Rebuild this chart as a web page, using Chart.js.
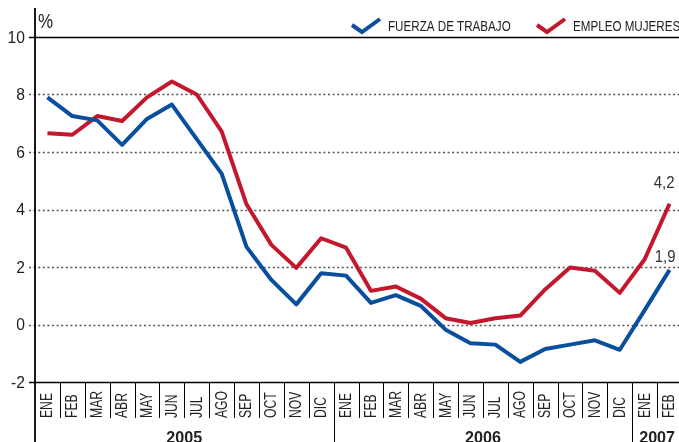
<!DOCTYPE html>
<html>
<head>
<meta charset="utf-8">
<script src="https://cdn.jsdelivr.net/npm/chart.js@4/dist/chart.umd.min.js"></script>
<style>
  html, body { margin: 0; padding: 0; background: #fff; overflow: hidden; }
  #wrap { width: 679px; height: 442px; overflow: hidden; position: relative; }
  canvas { display: block; }
</style>
</head>
<body>
<div id="wrap"><canvas id="chart" width="682" height="442"></canvas></div>
<script>
const months = ['ENE','FEB','MAR','ABR','MAY','JUN','JUL','AGO','SEP','OCT','NOV','DIC',
                'ENE','FEB','MAR','ABR','MAY','JUN','JUL','AGO','SEP','OCT','NOV','DIC',
                'ENE','FEB'];
const years = ['2005', '2006', '2007'];
const yearStart = [0, 12, 24];
const fuerzaTrabajo = [7.9, 7.25, 7.1, 6.25, 7.15, 7.65, 6.45, 5.25, 2.7, 1.55, 0.7, 1.78,
                       1.7, 0.75, 1.02, 0.65, -0.18, -0.65, -0.7, -1.3, -0.85, -0.7, -0.55, -0.88,
                       0.5, 1.9];
const empleoMujeres = [6.65, 6.6, 7.25, 7.08, 7.9, 8.45, 8.0, 6.72, 4.18, 2.77, 1.97, 3.0,
                       2.67, 1.17, 1.32, 0.9, 0.22, 0.05, 0.22, 0.31, 1.22, 1.98, 1.87, 1.1,
                       2.27, 4.2];
const yTicks = [-2, 0, 2, 4, 6, 8, 10];

const FONT = "'Liberation Sans', Arial, sans-serif";
const BLUE = '#0a4f9d';
const RED = '#c3172d';
const INK = '#222';

// condensed text: squeeze horizontally to look like a narrow face
function narrowText(ctx, text, x, y, font, sx, align) {
    ctx.save();
    ctx.font = font;
    ctx.textAlign = align || 'left';
    ctx.translate(x, y);
    ctx.scale(sx, 1);
    ctx.fillText(text, 0, 0);
    ctx.restore();
}

const decor = {
    id: 'decor',
    beforeDatasetsDraw(chart) {
        const { ctx, scales: { y } } = chart;
        ctx.save();
        ctx.strokeStyle = '#555';
        ctx.lineWidth = 1.5;
        ctx.setLineDash([2, 2.6]);
        yTicks.forEach(t => {
            if (t === -2 || t === 10) return;
            const py = Math.round(y.getPixelForValue(t)) + 0.5;
            ctx.beginPath();
            ctx.moveTo(29, py);
            ctx.lineTo(chart.width, py);
            ctx.stroke();
        });
        ctx.restore();
    },
    afterDraw(chart) {
        const { ctx, chartArea: a, scales: { x, y } } = chart;
        ctx.save();
        ctx.strokeStyle = '#000';
        ctx.setLineDash([]);

        // solid lines at 10 and -2
        ctx.lineWidth = 1.6;
        [10, -2].forEach(t => {
            const py = Math.round(y.getPixelForValue(t)) + 0.5;
            ctx.beginPath();
            ctx.moveTo(29, py);
            ctx.lineTo(chart.width, py);
            ctx.stroke();
        });

        // left axis
        ctx.lineWidth = 1.8;
        ctx.beginPath();
        ctx.moveTo(a.left, 8);
        ctx.lineTo(a.left, chart.height);
        ctx.stroke();

        // y tick labels
        ctx.fillStyle = INK;
        ctx.textBaseline = 'middle';
        yTicks.forEach(t => {
            narrowText(ctx, String(t), 25, y.getPixelForValue(t) + 1, '17px ' + FONT, 0.92, 'right');
        });

        // month separators
        const bottom = a.bottom;
        ctx.lineWidth = 1;
        for (let i = 1; i <= months.length; i++) {
            const px = i < months.length
                ? (x.getPixelForValue(i - 1) + x.getPixelForValue(i)) / 2
                : a.right;
            const isYear = yearStart.includes(i);
            ctx.beginPath();
            ctx.moveTo(Math.round(px) + 0.5, bottom);
            ctx.lineTo(Math.round(px) + 0.5, isYear ? chart.height : bottom + 36);
            ctx.stroke();
        }

        // month labels, rotated to read upwards
        ctx.textBaseline = 'middle';
        months.forEach((m, i) => {
            const px = x.getPixelForValue(i);
            ctx.save();
            ctx.translate(px + 0.5, bottom + 36);
            ctx.rotate(-Math.PI / 2);
            narrowText(ctx, m, 0, 0, '16px ' + FONT, 0.76, 'left');
            ctx.restore();
        });

        // year labels
        ctx.textBaseline = 'alphabetic';
        years.forEach((yr, k) => {
            const from = yearStart[k];
            const to = k + 1 < yearStart.length ? yearStart[k + 1] - 1 : months.length - 1;
            const cx = (x.getPixelForValue(from) + x.getPixelForValue(to)) / 2;
            narrowText(ctx, yr, cx, 443, 'bold 17px ' + FONT, 0.95, 'center');
        });

        // unit label
        narrowText(ctx, '%', 38, 28, '20px ' + FONT, 0.85, 'left');

        // legend
        const legend = [[BLUE, 'FUERZA DE TRABAJO', 352], [RED, 'EMPLEO MUJERES', 537]];
        legend.forEach(([col, text, lx]) => {
            ctx.strokeStyle = col;
            ctx.lineWidth = 4;
            ctx.lineJoin = 'miter';
            ctx.beginPath();
            ctx.moveTo(lx, 25);
            ctx.lineTo(lx + 10, 32);
            ctx.lineTo(lx + 28, 19);
            ctx.stroke();
            ctx.fillStyle = INK;
            narrowText(ctx, text, lx + 36, 31, '15.5px ' + FONT, 0.75, 'left');
        });

        // end labels
        ctx.fillStyle = '#333';
        const last = months.length - 1;
        const lx = x.getPixelForValue(last) + 5;
        narrowText(ctx, empleoMujeres[last].toFixed(1).replace('.', ','), lx,
                   y.getPixelForValue(empleoMujeres[last]) - 16, '17px ' + FONT, 0.88, 'right');
        narrowText(ctx, fuerzaTrabajo[last].toFixed(1).replace('.', ','), lx + 1,
                   y.getPixelForValue(fuerzaTrabajo[last]) - 8, '17px ' + FONT, 0.88, 'right');
        ctx.restore();
    }
};

new Chart(document.getElementById('chart'), {
    type: 'line',
    data: {
        labels: months,
        datasets: [
            { label: 'FUERZA DE TRABAJO', data: fuerzaTrabajo, borderColor: BLUE },
            { label: 'EMPLEO MUJERES', data: empleoMujeres, borderColor: RED }
        ]
    },
    options: {
        responsive: false,
        animation: false,
        layout: { padding: { top: 37, right: 0, bottom: 0, left: 0 } },
        elements: {
            line: { borderWidth: 4, tension: 0, borderJoinStyle: 'round', borderCapStyle: 'butt', fill: false },
            point: { radius: 0 }
        },
        plugins: { legend: { display: false }, tooltip: { enabled: false } },
        scales: {
            x: {
                offset: true,
                grid: { display: false },
                border: { display: false },
                ticks: { display: false },
                afterFit: s => { s.height = 60; }
            },
            y: {
                min: -2,
                max: 10,
                grid: { display: false },
                border: { display: false },
                ticks: { display: false },
                afterFit: s => { s.width = 35; }
            }
        }
    },
    plugins: [decor]
});
</script>
</body>
</html>
